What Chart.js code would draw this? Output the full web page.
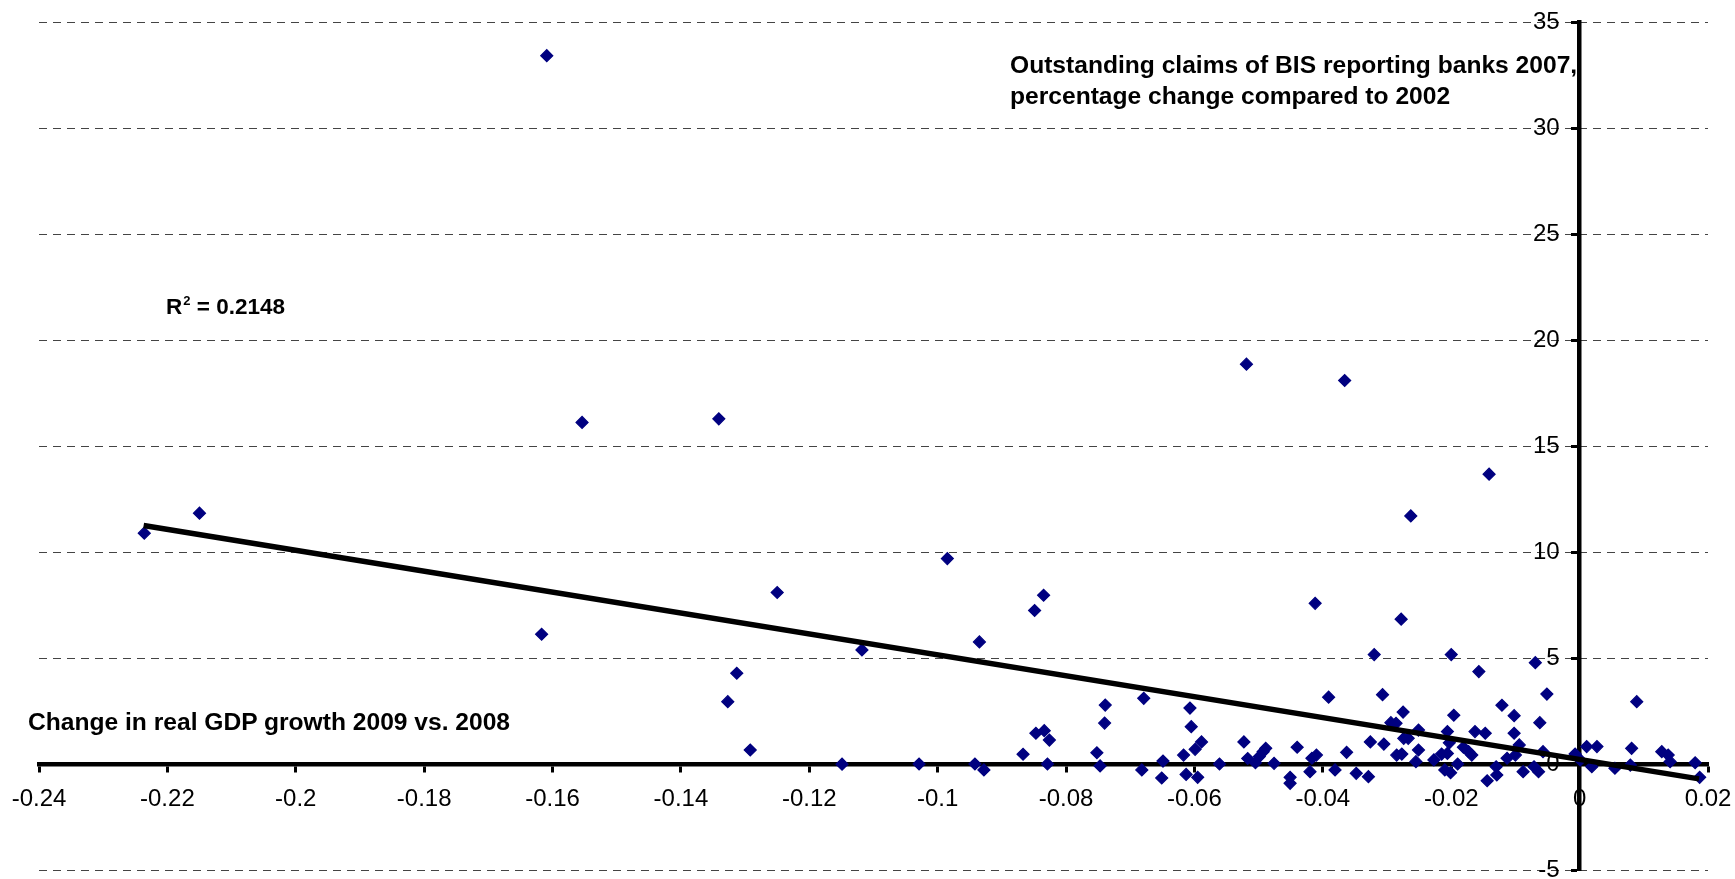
<!DOCTYPE html>
<html>
<head>
<meta charset="utf-8">
<script src="https://cdn.jsdelivr.net/npm/chart.js@4/dist/chart.umd.min.js"></script>
<style>
html,body{margin:0;padding:0;background:#fff;}
#wrap{position:relative;width:1735px;height:879px;overflow:hidden;}
#c{display:block;}
.lbl{position:absolute;font-family:"Liberation Sans",Arial,sans-serif;font-weight:bold;color:#000;white-space:nowrap;}
</style>
</head>
<body>
<div id="wrap">
<canvas id="c" width="1735" height="879"></canvas>
<div class="lbl" style="left:1010px;top:48.5px;font-size:24.6px;line-height:31.5px;">Outstanding claims of BIS reporting banks 2007,<br>percentage change compared to 2002</div>
<div class="lbl" style="left:28px;top:710px;font-size:24.6px;line-height:24.6px;">Change in real GDP growth 2009 vs. 2008</div>
<div class="lbl" style="left:166px;top:296px;font-size:22.5px;line-height:22.5px;">R<span style="font-size:13px;position:relative;top:-9px;margin-left:1px;">2</span> = 0.2148</div>
</div>
<script>
// ---- data ----
const gdpChange = [
  -0.2236,-0.2150,-0.1609,-0.1617,-0.1554,-0.1341,-0.1327,-0.1313,-0.1292,-0.1250,
  -0.1149,-0.1118,-0.1029,-0.0985,
  -0.0935,-0.0942,-0.0928,-0.0867,-0.0849,-0.0835,-0.0847,-0.0834,-0.0826,-0.0829,
  -0.0752,-0.0747,-0.0739,-0.0740,-0.0679,-0.0682,-0.0649,-0.0651,-0.0607,-0.0605,
  -0.0617,-0.0599,-0.0589,-0.0613,-0.0595,-0.0561,-0.0523,-0.0519,-0.0517,-0.0505,
  -0.0499,-0.0493,-0.0489,-0.0476,-0.0440,-0.0451,-0.0451,-0.0417,-0.0410,-0.0420,
  -0.0412,-0.0391,-0.0381,-0.0366,-0.0363,-0.0348,-0.0329,-0.0326,-0.0320,-0.0307,
  -0.0305,-0.0294,-0.0286,-0.0278,-0.0275,-0.0274,-0.0267,-0.0285,-0.0277,-0.0263,
  -0.0255,-0.0251,-0.0251,
  -0.0200,-0.0157,-0.0196,-0.0206,-0.0203,-0.0227,-0.0215,-0.0206,-0.0210,-0.0201,
  -0.0190,-0.0181,-0.0173,-0.0168,-0.0163,-0.0147,-0.0141,-0.0144,-0.0130,-0.0129,
  -0.0121,-0.0102,-0.0102,-0.0113,-0.0100,-0.0094,-0.0088,-0.0069,-0.0051,-0.0062,
  -0.0057,-0.0071,-0.0064,-0.0007,0.0001,0.0011,0.0027,0.0019,0.0055,0.0079,
  0.0081,0.0089,0.0128,0.0138,0.0141,0.0180,0.0187
];
const claimsChange = [
  10.89,11.83,33.41,6.12,16.11,16.28,2.94,4.28,0.66,8.09,
  -0.01,5.38,0.00,9.69,
  5.76,0.00,-0.28,0.46,7.24,7.96,1.45,1.57,1.13,0.00,
  0.53,-0.09,2.78,1.93,3.10,-0.28,0.14,-0.66,2.64,1.76,
  0.42,0.69,1.04,-0.49,-0.63,0.00,1.04,18.86,0.26,0.06,
  0.35,0.58,0.74,0.03,0.79,-0.63,-0.91,0.27,0.42,-0.36,
  7.58,3.15,-0.28,18.09,0.55,-0.44,-0.60,1.04,5.16,3.27,
  0.94,1.95,1.92,6.83,2.45,1.21,1.21,0.42,0.47,11.70,
  0.11,0.66,1.60,
  5.16,4.36,2.30,1.53,1.00,0.19,0.47,0.50,-0.28,-0.41,
  0.00,0.79,0.58,0.42,1.53,1.45,13.67,-0.79,-0.13,-0.52,
  2.77,2.28,1.45,0.27,0.42,0.90,-0.36,4.78,3.30,1.95,
  0.58,-0.13,-0.36,0.47,0.19,0.82,0.82,-0.13,-0.20,-0.05,
  0.74,2.94,0.58,0.42,0.11,0.06,-0.63
];
const trendX = [-0.2237, 0.0186];
const trendY = [11.25, -0.70];
const xTicks = [-0.24,-0.22,-0.2,-0.18,-0.16,-0.14,-0.12,-0.1,-0.08,-0.06,-0.04,-0.02,0,0.02];
const xTickLabels = ['-0.24','-0.22','-0.2','-0.18','-0.16','-0.14','-0.12','-0.1','-0.08','-0.06','-0.04','-0.02','0','0.02'];
const yTicks = [-5,0,5,10,15,20,25,30,35];
const yTickLabels = ['-5','0','5','10','15','20','25','30','35'];

// ---- chart ----
const FONT = '"Liberation Sans", Arial, sans-serif';
const scatterPts = gdpChange.map((x, i) => ({x: x, y: claimsChange[i]}));
const trendPts = trendX.map((x, i) => ({x: x, y: trendY[i]}));

new Chart(document.getElementById('c'), {
  type: 'scatter',
  data: {
    datasets: [
      {
        label: 'Trend',
        data: trendPts,
        showLine: true,
        borderColor: '#000',
        borderWidth: 5.5,
        pointRadius: 0,
        pointHoverRadius: 0,
        fill: false,
        order: 0
      },
      {
        label: 'Countries',
        data: scatterPts,
        pointStyle: 'rectRot',
        pointRadius: 6,
        pointHoverRadius: 6,
        backgroundColor: '#000080',
        borderColor: '#000080',
        borderWidth: 1.2,
        order: 1
      }
    ]
  },
  options: {
    responsive: false,
    animation: false,
    devicePixelRatio: 1,
    layout: {padding: {left: 39, right: 27, top: 22, bottom: 9}},
    plugins: {legend: {display: false}, tooltip: {enabled: false}, title: {display: false}},
    scales: {
      x: {
        type: 'linear',
        min: -0.24,
        max: 0.02,
        position: {y: 0},
        afterBuildTicks: s => { s.ticks = xTicks.map(v => ({value: v})); },
        ticks: {
          callback: (v, i) => xTickLabels[i],
          color: '#000',
          font: {family: FONT, size: 24, lineHeight: 2.2},
          padding: 3,
          maxRotation: 0,
          autoSkip: false
        },
        grid: {drawOnChartArea: false, drawTicks: true, tickLength: 6, tickColor: '#000', tickWidth: 3, tickBorderDash: []},
        border: {display: true, color: '#000', width: 4.5}
      },
      y: {
        type: 'linear',
        min: -5,
        max: 35,
        position: {x: 0},
        afterBuildTicks: s => { s.ticks = yTicks.map(v => ({value: v})); },
        ticks: {
          callback: (v, i) => yTickLabels[i] + '   ',
          color: '#000',
          font: {family: FONT, size: 24, lineHeight: 0.55},
          padding: 0,
          autoSkip: false
        },
        grid: {drawOnChartArea: true, drawTicks: true, color: '#444', lineWidth: 1, tickLength: 6, tickColor: '#000', tickWidth: 3, tickBorderDash: []},
        border: {display: true, color: '#000', width: 4.5, dash: [8, 6]}
      }
    }
  }
});
</script>
</body>
</html>
